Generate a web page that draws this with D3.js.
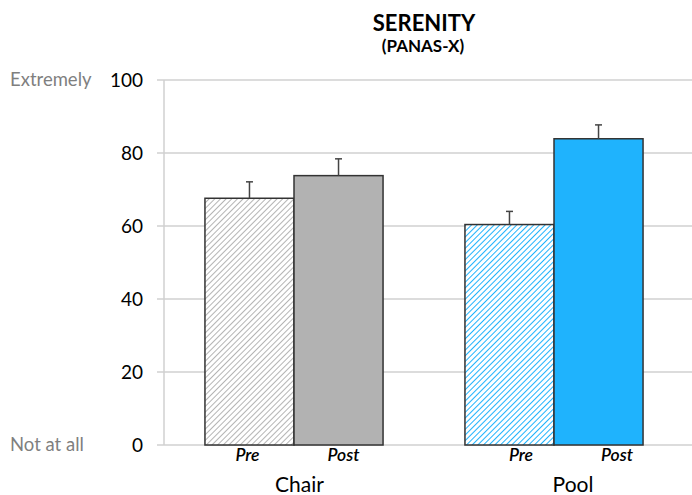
<!DOCTYPE html>
<html>
<head>
<meta charset="utf-8">
<script src="https://cdn.jsdelivr.net/npm/d3@7"></script>
<style>
  html, body { margin: 0; padding: 0; background: #fff; }
  svg { display: block; font-family: Lato, "Open Sans", sans-serif; }
</style>
</head>
<body>
<svg id="chart" width="692" height="495"></svg>
<script>
// Serenity scores (PANAS-X), before and after each session type
const groups = ["Chair", "Pool"];
const phases = ["Pre", "Post"];
const means  = [[67.6, 73.8], [60.4, 83.9]];
const errors = [[4.5, 4.6], [3.6, 3.8]];
const yTicks = [0, 20, 40, 60, 80, 100];
const anchorLabels = [{ v: 100, text: "Extremely" }, { v: 0, text: "Not at all" }];

const svg = d3.select("#chart");
const W = 692, H = 495;
const plot = { left: 164, right: 684, top: 80, bottom: 445 };

const y = d3.scaleLinear().domain([0, 100]).range([plot.bottom, plot.top]);
const x0 = d3.scaleBand().domain(groups).range([plot.left, plot.right])
  .paddingInner(0.315).paddingOuter(0.1575);
const x1 = d3.scaleBand().domain(phases).range([0, x0.bandwidth()]);

// label positions sit on a slightly wider spacing than the bars
const lx0 = d3.scaleBand().domain(groups).range([162.75, 709.75]);
const lx1 = d3.scalePoint().domain(phases).range([-52, 44]);

const defs = svg.append("defs");
function hatch(id, color) {
  const p = defs.append("pattern").attr("id", id)
    .attr("patternUnits", "userSpaceOnUse").attr("width", 4).attr("height", 4)
    .attr("patternTransform", "rotate(45)");
  p.append("rect").attr("width", 4).attr("height", 4).attr("fill", "#fff");
  p.append("line").attr("x1", 0).attr("y1", 0).attr("x2", 0).attr("y2", 4)
    .attr("stroke", color).attr("stroke-width", 2);
}
hatch("hatchGrey", "#b4b4b4");
hatch("hatchBlue", "#1fb3fd");

const fills = {
  Chair: { Pre: "url(#hatchGrey)", Post: "#b2b2b2" },
  Pool:  { Pre: "url(#hatchBlue)", Post: "#1fb3fd" }
};

// gridlines with short outward ticks
svg.append("g").selectAll("line").data(yTicks).join("line")
  .attr("x1", plot.left - 7).attr("x2", W)
  .attr("y1", d => y(d)).attr("y2", d => y(d))
  .attr("stroke", "#d0d0d0").attr("stroke-width", 1.5);

// vertical axis line
svg.append("line")
  .attr("x1", plot.left).attr("x2", plot.left)
  .attr("y1", y(100)).attr("y2", y(0))
  .attr("stroke", "#d0d0d0").attr("stroke-width", 1.5);

// tick labels
svg.append("g").selectAll("text").data(yTicks).join("text")
  .attr("x", 143).attr("y", d => y(d)).attr("dy", "0.35em")
  .attr("text-anchor", "end").attr("font-size", 19).attr("fill", "#000")
  .text(d => d);

// anchor labels for the scale ends
svg.append("g").selectAll("text").data(anchorLabels).join("text")
  .attr("x", 10).attr("y", d => y(d.v)).attr("dy", "0.35em")
  .attr("font-size", 18.5).attr("fill", "#7f7f7f")
  .text(d => d.text);

// bars
const bars = [];
groups.forEach((g, gi) => phases.forEach((p, pi) => {
  bars.push({ g, p, v: means[gi][pi], e: errors[gi][pi] });
}));

const barG = svg.append("g");
barG.selectAll("rect").data(bars).join("rect")
  .attr("x", d => x0(d.g) + x1(d.p))
  .attr("width", x1.bandwidth())
  .attr("y", d => y(d.v))
  .attr("height", d => y(0) - y(d.v))
  .attr("fill", d => fills[d.g][d.p])
  .attr("stroke", "#333").attr("stroke-width", 1.5);

// upper error bars
const errG = svg.append("g").attr("stroke", "#444").attr("stroke-width", 1.5);
errG.selectAll("line.stem").data(bars).join("line").attr("class", "stem")
  .attr("x1", d => x0(d.g) + x1(d.p) + x1.bandwidth() / 2)
  .attr("x2", d => x0(d.g) + x1(d.p) + x1.bandwidth() / 2)
  .attr("y1", d => y(d.v)).attr("y2", d => y(d.v + d.e));
errG.selectAll("line.cap").data(bars).join("line").attr("class", "cap")
  .attr("x1", d => x0(d.g) + x1(d.p) + x1.bandwidth() / 2 - 3.5)
  .attr("x2", d => x0(d.g) + x1(d.p) + x1.bandwidth() / 2 + 3.5)
  .attr("y1", d => y(d.v + d.e)).attr("y2", d => y(d.v + d.e));

// phase labels
svg.append("g").selectAll("text").data(bars).join("text")
  .attr("x", d => lx0(d.g) + lx0.bandwidth() / 2 + lx1(d.p))
  .attr("y", 461)
  .attr("text-anchor", "middle").attr("font-size", 17.5)
  .attr("font-style", "italic").attr("font-weight", 600)
  .text(d => d.p);

// group labels
svg.append("g").selectAll("text").data(groups).join("text")
  .attr("x", d => lx0(d) + lx0.bandwidth() / 2)
  .attr("y", 492)
  .attr("text-anchor", "middle").attr("font-size", 21)
  .text(d => d);

// title
svg.append("text").attr("x", 424).attr("y", 31)
  .attr("text-anchor", "middle").attr("font-size", 22).attr("font-weight", 700)
  .text("SERENITY");
svg.append("text").attr("x", 423).attr("y", 52)
  .attr("text-anchor", "middle").attr("font-size", 17).attr("font-weight", 700)
  .text("(PANAS-X)");
</script>
</body>
</html>
